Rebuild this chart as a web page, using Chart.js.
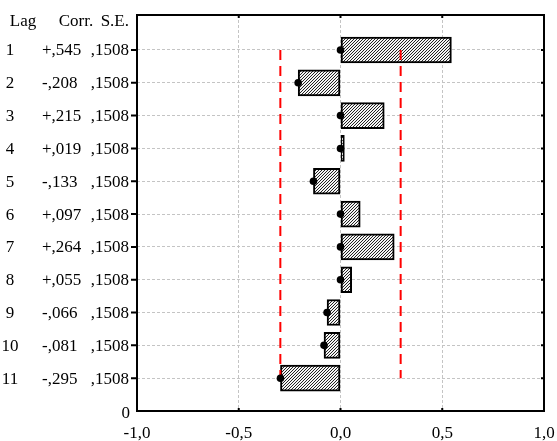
<!DOCTYPE html>
<html><head><meta charset="utf-8">
<script src="https://cdn.jsdelivr.net/npm/chart.js@4/dist/chart.umd.min.js"></script>
<style>html,body{margin:0;padding:0;background:#fff;}</style>
</head><body>
<canvas id="c" width="557" height="441"></canvas>
<script>
// ---- data ----
const lags = [1, 2, 3, 4, 5, 6, 7, 8, 9, 10, 11];
const corr = [0.545, -0.208, 0.215, 0.019, -0.133, 0.097, 0.264, 0.055, -0.066, -0.081, -0.295];
const corrLabels = ['+,545', '-,208', '+,215', '+,019', '-,133', '+,097', '+,264', '+,055', '-,066', '-,081', '-,295'];
const seLabels = [',1508', ',1508', ',1508', ',1508', ',1508', ',1508', ',1508', ',1508', ',1508', ',1508', ',1508'];
const limitLow = [-0.2956, -0.2956, -0.2956, -0.2956, -0.2956, -0.2956, -0.2956, -0.2956, -0.2956, -0.2956, -0.2956];
const limitHigh = [0.2956, 0.2956, 0.2956, 0.2956, 0.2956, 0.2956, 0.2956, 0.2956, 0.2956, 0.2956, 0.2956];
const xTickLabels = ['-1,0', '-0,5', '0,0', '0,5', '1,0'];
const headers = ['Lag', 'Corr.', 'S.E.'];
const bottomLabel = '0';

const FONT = '"Liberation Serif", "Times New Roman", serif';
const canvas = document.getElementById('c');
const mainCtx = canvas.getContext('2d');

function makeHatch() {
  const n = 3;
  const c = document.createElement('canvas');
  c.width = n; c.height = n;
  const g = c.getContext('2d');
  g.fillStyle = '#f4f4f4';
  g.fillRect(0, 0, n, n);
  g.strokeStyle = '#222222';
  g.lineWidth = 1;
  g.beginPath();
  for (let k = -2; k <= 2; k++) {
    g.moveTo(-1 + k * n, n + 1); g.lineTo(n + 1 + k * n, -1);
  }
  g.stroke();
  return mainCtx.createPattern(c, 'repeat');
}

const GRID = '#c4c4c4';

const framePlugin = {
  id: 'frame',
  afterDraw(chart) {
    const ctx = chart.ctx;
    const ca = chart.chartArea;
    const xs = chart.scales.x, ys = chart.scales.y;
    ctx.save();
    ctx.strokeStyle = '#000';
    ctx.lineWidth = 2;
    ctx.strokeRect(ca.left, ca.top, ca.right - ca.left, ca.bottom - ca.top);
    ctx.beginPath();
    lags.forEach(l => {
      const y = ys.getPixelForValue(l);
      ctx.moveTo(ca.left - 6, y); ctx.lineTo(ca.left, y);
      ctx.moveTo(ca.right - 3, y); ctx.lineTo(ca.right, y);
    });
    xs.ticks.forEach(t => {
      const x = xs.getPixelForValue(t.value);
      ctx.moveTo(x, ca.top); ctx.lineTo(x, ca.top + 3);
      ctx.moveTo(x, ca.bottom); ctx.lineTo(x, ca.bottom - 3);
    });
    ctx.stroke();

    ctx.fillStyle = '#000';
    ctx.font = '17px ' + FONT;
    ctx.textBaseline = 'middle';
    const hy = ca.top + 7;
    ctx.textAlign = 'center'; ctx.fillText(headers[0], 23, hy);
    ctx.textAlign = 'center'; ctx.fillText(headers[1], 76, hy);
    ctx.textAlign = 'right'; ctx.fillText(headers[2], 129, hy);
    lags.forEach((l, i) => {
      const y = ys.getPixelForValue(l) + 1;
      ctx.textAlign = 'center'; ctx.fillText(String(l), 10, y);
      ctx.textAlign = 'left'; ctx.fillText(corrLabels[i], 42, y);
      ctx.textAlign = 'right'; ctx.fillText(seLabels[i], 129, y);
    });
    ctx.textAlign = 'right';
    ctx.fillText(bottomLabel, 130, ys.getPixelForValue(12) + 3);
    ctx.restore();
  }
};

new Chart(canvas, {
  data: {
    datasets: [
      {
        type: 'bar',
        indexAxis: 'y',
        data: lags.map((l, i) => ({ x: corr[i], y: l })),
        backgroundColor: makeHatch(),
        borderColor: '#000',
        borderWidth: 2,
        borderSkipped: false,
        barThickness: 26,
        order: 3
      },
      {
        type: 'line',
        data: lags.map((l, i) => ({ x: limitLow[i], y: l })),
        borderColor: '#ff0000',
        borderWidth: 2,
        borderDash: [10, 6],
        pointRadius: 0,
        fill: false,
        tension: 0,
        order: 2
      },
      {
        type: 'line',
        data: lags.map((l, i) => ({ x: limitHigh[i], y: l })),
        borderColor: '#ff0000',
        borderWidth: 2,
        borderDash: [10, 6],
        pointRadius: 0,
        fill: false,
        tension: 0,
        order: 2
      },
      {
        type: 'scatter',
        data: lags.map((l, i) => ({ x: Math.min(0, corr[i]), y: l })),
        pointRadius: 3.8,
        backgroundColor: '#000',
        borderWidth: 0,
        order: 1
      }
    ]
  },
  options: {
    responsive: false,
    animation: false,
    layout: { padding: { left: 0, top: 15, right: 13, bottom: 0 } },
    plugins: { legend: { display: false }, tooltip: { enabled: false } },
    scales: {
      x: {
        type: 'linear',
        min: -1, max: 1,
        offset: false,
        ticks: {
          stepSize: 0.5,
          callback: (v, i) => xTickLabels[i],
          font: { family: FONT, size: 17 },
          color: '#000',
          padding: 12,
          maxRotation: 0
        },
        grid: { color: GRID, lineWidth: 1, drawTicks: false, offset: false },
        border: { display: false, dash: [3, 2] },
        afterFit(s) { s.height = 30; s.paddingLeft = 0; s.paddingRight = 0; }
      },
      y: {
        type: 'linear',
        min: -0.066, max: 12,
        reverse: true,
        offset: false,
        ticks: { stepSize: 1, display: false },
        grid: {
          color: c => (c.tick && c.tick.value >= 1 && c.tick.value <= 11) ? GRID : 'rgba(0,0,0,0)',
          lineWidth: 1, drawTicks: false, offset: false
        },
        border: { display: false, dash: [3, 2] },
        afterFit(s) { s.width = 137; s.paddingTop = 0; s.paddingBottom = 0; }
      }
    }
  },
  plugins: [framePlugin]
});
</script>
</body></html>
